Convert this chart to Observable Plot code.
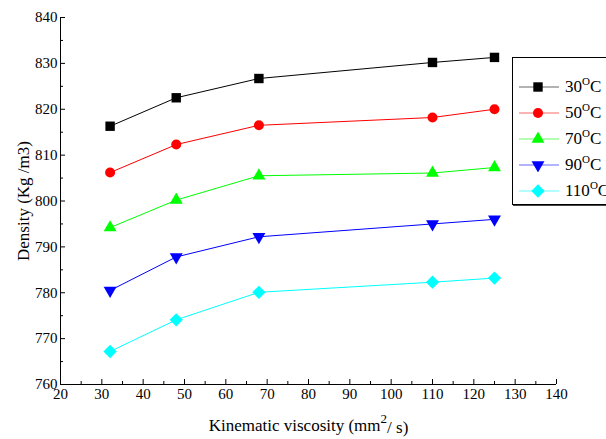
<!DOCTYPE html>
<html>
<head>
<meta charset="utf-8">
<script src="https://cdn.jsdelivr.net/npm/d3@7"></script>
<script src="https://cdn.jsdelivr.net/npm/@observablehq/plot@0.6"></script>
<style>
  html, body { margin: 0; padding: 0; background: #fff; overflow: hidden; }
  #wrap { position: relative; width: 606px; height: 439px; overflow: hidden; font-family: "Liberation Serif", "Times New Roman", serif; }
  #legend { position: absolute; left: 512px; top: 57px; width: 110px; height: 146px; border: 1px solid #000; box-shadow: 1px 1px 0 #444; background: #fff; }
  .row { position: absolute; left: 6px; height: 26px; display: flex; align-items: center; font-size: 17px; color: #000; white-space: nowrap; }
  .row svg { margin-right: 6px; }
  .row sup { font-size: 11px; vertical-align: 0; position: relative; top: -7px; }
</style>
</head>
<body>
<div id="wrap"><div id="chart"></div><div id="legend"></div></div>
<script>
const viscosity = [32, 48, 68, 110, 125];
const series = ["30", "50", "70", "90", "110"];
const d30 = [816.3, 822.5, 826.7, 830.2, 831.3];
const d50 = [806.2, 812.3, 816.5, 818.2, 820.0];
const d70 = [794.2, 800.2, 805.5, 806.1, 807.3];
const d90 = [780.5, 787.8, 792.2, 795.0, 796.0];
const d110 = [767.2, 774.1, 780.1, 782.3, 783.2];
const colors = ["#000000", "#ff0000", "#00ff00", "#0000ff", "#00ffff"];
const symbols = ["square", "circle", "triangle", "triangle", "diamond2"];
const rotations = [0, 0, 0, 180, 0];
const radii = [5.3, 5, 4.8, 4.8, 6];
const xTicks = d3.range(20, 141, 10);
const yTicks = d3.range(760, 841, 10);
const xMinor = d3.range(25, 140, 10);
const yMinor = d3.range(765, 840, 10);

const values = [d30, d50, d70, d90, d110];
const rows = [];
series.forEach((s, i) => viscosity.forEach((v, j) => rows.push({s, x: v, y: values[i][j]})));

const font = "'Liberation Serif', 'Times New Roman', serif";
const marks = [
  Plot.ruleX([20]),
  Plot.ruleY([760]),
  Plot.axisX(xTicks, {tickSize: -5, tickFormat: () => "", label: null}),
  Plot.axisX(xMinor, {tickSize: -3, tickFormat: () => "", label: null}),
  Plot.axisY(yTicks, {tickSize: -5, tickFormat: () => "", label: null}),
  Plot.axisY(yMinor, {tickSize: -3, tickFormat: () => "", label: null}),
  Plot.axisX(xTicks, {tickSize: 0, tickPadding: 4, fontSize: 15, label: "Kinematic viscosity (mm2/ s)", labelAnchor: "center", labelOffset: 46}),
  Plot.axisY(yTicks, {tickSize: 0, tickPadding: 3, fontSize: 15, label: "Density (Kg /m3)", labelAnchor: "center", labelOffset: 44})
];
series.forEach((s, i) => {
  const data = rows.filter(d => d.s === s);
  marks.push(Plot.line(data, {x: "x", y: "y", stroke: colors[i], strokeWidth: 1}));
  marks.push(Plot.dot(data, {x: "x", y: "y", fill: colors[i], symbol: () => symbols[i], r: radii[i], rotate: rotations[i]}));
});

const chart = Plot.plot({
  width: 606,
  height: 439,
  marginLeft: 60,
  marginRight: 50,
  marginTop: 17,
  marginBottom: 55,
  style: {fontFamily: font, fontSize: "15px", color: "#000", background: "#fff"},
  x: {domain: [20, 140]},
  y: {domain: [760, 840]},
  symbol: {type: "identity"},
  marks
});
document.getElementById("chart").appendChild(chart);

// axis titles: superscript and no arrows
d3.select(chart).selectAll("text").each(function() {
  const t = d3.select(this);
  const txt = t.text();
  if (txt.startsWith("Kinematic")) {
    t.text(null).style("font-size", "17px");
    t.append("tspan").text("Kinematic viscosity (mm");
    t.append("tspan").attr("dy", "-0.55em").style("font-size", "13px").text("2");
    t.append("tspan").attr("dy", "0.55em").text("/ s)");
  } else if (txt.startsWith("Density")) {
    t.text("Density (Kg /m3)").style("font-size", "17px");
  }
});

// legend
const legend = document.getElementById("legend");
series.forEach((s, i) => {
  const row = document.createElement("div");
  row.className = "row";
  row.style.top = (16 + i * 26) + "px";
  const svg = d3.create("svg").attr("width", 40).attr("height", 14);
  svg.append("line").attr("x1", 0).attr("x2", 40).attr("y1", 7).attr("y2", 7).attr("stroke", colors[i]).attr("stroke-opacity", 0.6);
  const size = radii[i] * radii[i] * Math.PI;
  const sym = {square: d3.symbolSquare, circle: d3.symbolCircle, triangle: d3.symbolTriangle, diamond2: d3.symbolDiamond2}[symbols[i]];
  svg.append("path").attr("d", d3.symbol(sym, size)()).attr("fill", colors[i])
    .attr("transform", `translate(19,7) rotate(${rotations[i]})`);
  row.appendChild(svg.node());
  const label = document.createElement("span");
  label.innerHTML = `${s}<sup>O</sup>C`;
  row.appendChild(label);
  legend.appendChild(row);
});
</script>
</body>
</html>
